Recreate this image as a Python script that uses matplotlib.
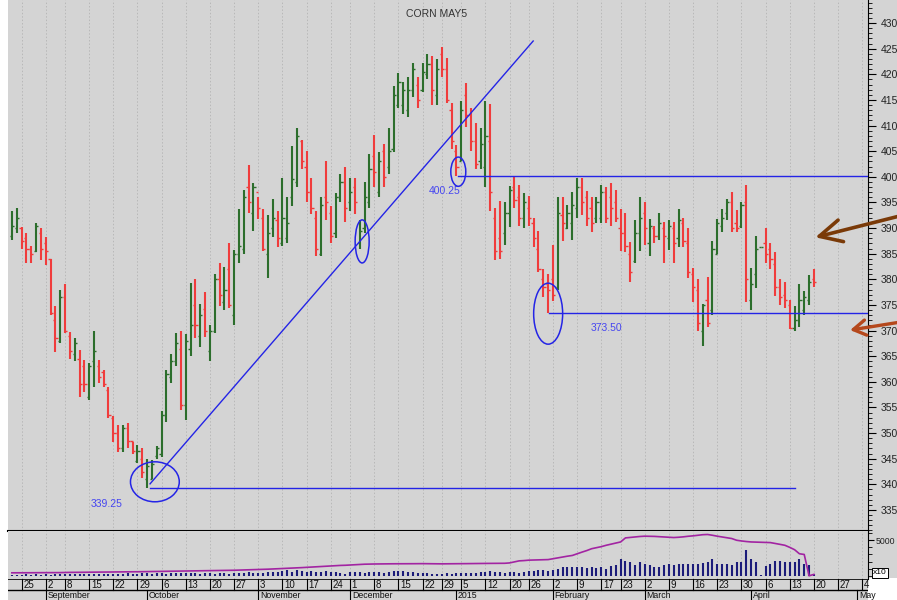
import numpy as np
import pandas as pd
import matplotlib
matplotlib.use("Agg")
import matplotlib.pyplot as plt
from matplotlib.patches import Ellipse, Rectangle

plt.rcParams['font.family'] = ['Liberation Sans', 'DejaVu Sans']

# trading calendar (Good Friday kept as a flat bar, like the source chart)
holidays = ["2014-09-01", "2014-11-27", "2014-12-25", "2015-01-01", "2015-01-19", "2015-02-16"]
dates = pd.bdate_range("2014-08-21", "2015-05-15")
dates = dates[~dates.isin(pd.to_datetime(holidays))]

opens = [388.5, 390, 390, 388, 386, 385.5, 389, 387, 384, 372,
         368, 376.5, 369, 365.5, 364.5, 363, 357, 364, 363, 362,
         358.5, 353, 350, 347, 351, 348.5, 344.5, 345, 341, 341,
         345.5, 346, 353.5, 361, 364, 366.5, 355.5, 366.5, 375, 369,
         374.25, 366, 370, 380, 375.5, 382, 373, 385, 386, 398,
         393, 397, 392, 385, 390, 391.5, 387, 388, 396, 399,
         407, 402, 397, 392, 385, 396, 393, 389, 396, 399,
         395, 398, 387, 390, 395, 404, 397, 405, 402, 405.5,
         414, 414, 413, 417, 418, 417, 420, 422, 416, 424,
         421, 413, 405, 403, 416, 412, 407, 403, 402, 407,
         392, 388, 389, 393, 398, 396, 392, 394, 391, 386,
         380, 379, 380, 378.5, 392.5, 390, 391, 394, 398, 396,
         394, 392, 392, 397, 396, 395, 390, 389, 385, 383.5,
         389, 393, 387, 390, 388.5, 390, 388, 390, 388, 391,
         387, 381, 378, 370, 376, 374, 385, 390.5, 393, 395,
         391, 390.5, 395, 376, 381, 386.25, 387, 386, 383, 378.5,
         377, 375, 370.5, 372, 374, 376, 380]
highs = [393.25, 394, 390.25, 389, 386.5, 391, 390, 388.25, 384, 374.75,
         378, 379, 369.75, 368.5, 366.25, 364.25, 363.75, 370, 364.25, 362.25,
         359, 353.25, 351.5, 351.5, 352, 348.25, 347.75, 347, 345, 344.75,
         347.5, 354.25, 362.25, 365.5, 369.5, 370, 369.25, 379.25, 380, 375.25,
         377.5, 371, 381, 383.25, 382.5, 387, 385.75, 393.75, 397.5, 402.25,
         398.75, 396, 393.75, 392.5, 395.75, 393.25, 399.75, 396, 406, 409.5,
         407.25, 405, 399.75, 393.25, 396, 403, 394.25, 396.75, 400.5, 402,
         399.75, 399.75, 391.5, 399, 404.5, 408.25, 404.75, 406.5, 409.5, 417.75,
         420.25, 418.5, 419.5, 422.25, 419.5, 422.25, 424, 423.5, 423, 425.25,
         423.25, 414.5, 406.25, 414.75, 418.25, 413.5, 410.5, 409.5, 414.75, 414.25,
         394, 395.25, 395, 398.25, 400, 398.5, 396.75, 396.25, 392, 389.5,
         382, 381, 386.75, 396, 396, 394.5, 397, 399.75, 399.75, 397.25,
         396, 396, 398.5, 398, 398.75, 397.5, 393.75, 393, 387.25, 391.5,
         396, 395, 391.75, 390.5, 393, 391.25, 391.5, 391.25, 393.75, 392,
         390, 382.25, 380, 375.25, 380.5, 387.5, 391.75, 393.75, 395.75, 397,
         393.5, 395, 398.5, 382.25, 388.5, 386.25, 390, 387, 385.25, 380,
         379.5, 376, 374.75, 379, 377.75, 380.75, 382]
lows = [387.75, 389, 386, 383.25, 383.25, 385.25, 383.75, 382.75, 373, 365.75,
        367.5, 369.5, 364.5, 364, 357, 358, 356.5, 359, 359.75, 359,
        353, 348.25, 346.25, 346.25, 347, 346, 344.25, 341.25, 339.25, 341,
        345, 345.25, 352.25, 359.75, 363, 354.5, 352.5, 365, 368.5, 366.75,
        368.75, 364, 369.5, 374.75, 374, 374.5, 371, 383.25, 385, 393,
        389.5, 391.75, 385.5, 380.25, 388.25, 386.25, 386.5, 387, 394.25, 398,
        401.5, 395, 392.75, 384.5, 384.5, 391.5, 387, 388, 395, 391.25,
        393.25, 392.75, 386, 389, 394, 398, 396, 398, 400.5, 404.75,
        413.5, 412.25, 411.75, 415.5, 413.5, 416.5, 419, 414, 414, 419.5,
        414.5, 405.5, 400.25, 403, 409.75, 405, 401.5, 401.5, 398, 393.25,
        383.75, 384, 386.75, 390.25, 394, 390.5, 390, 390.5, 386.25, 381.5,
        376.5, 373.5, 375.75, 378, 387.5, 389.75, 387.75, 392, 392.5, 390.5,
        389.25, 391, 391, 391, 390.5, 391.25, 385.5, 385.25, 379.5, 383.25,
        385.5, 386.75, 384.5, 387, 387.75, 383.25, 385.75, 383.25, 386.25, 386.25,
        380.25, 375.5, 370, 367, 370.75, 373, 385, 389.25, 391.5, 389.25,
        389.25, 390, 375.5, 374, 378.25, 386.25, 383.25, 382, 376.75, 375,
        374.5, 370.25, 370, 370.75, 373, 375, 378.5]
closes = [390.5, 392, 387.5, 386, 385, 390.5, 386, 385.5, 373.5, 368.5,
          376.5, 370, 366, 367.5, 359.5, 359.5, 363, 366, 361, 359.5,
          353.5, 350, 347, 351, 348.5, 346.5, 346.5, 342.5, 343.5, 344,
          347, 353.5, 361.5, 364, 367.5, 355.5, 368, 371, 371, 373,
          370, 370, 380, 377, 378, 375, 385, 386.5, 396, 395,
          398, 394, 386, 389, 392, 388, 392, 391, 399.5, 408,
          403, 397, 394, 386, 394.5, 395, 388.5, 396, 399, 394,
          397, 395, 389.5, 396, 401.5, 401, 403, 400, 405, 416,
          418.5, 417, 417, 421, 415, 420.5, 422, 417, 421, 421,
          415, 407, 402, 413, 412, 407, 402.5, 406.5, 408, 397,
          385.5, 385.5, 393, 397.5, 395.5, 392, 395, 392, 388, 382,
          378.5, 378, 377, 393, 391, 393, 394.5, 398, 395, 392,
          391, 395, 397, 392, 394, 392, 389, 386.5, 381.5, 389,
          392, 390, 390.5, 388.5, 391, 388.5, 390.5, 387, 391.5, 387.5,
          381.5, 378.5, 371.5, 375, 371.5, 386, 391, 392, 395, 390,
          390, 394.5, 380, 379, 386, 386.25, 385, 384, 378.5, 376.5,
          376, 370.5, 372, 376, 376.5, 379.5, 379.5]

# volume and open interest, in the chart's x10 units
volume = [150, 150, 150, 200, 150, 200, 150, 200, 150, 200,
          250, 250, 200, 250, 300, 250, 250, 300, 250, 300,
          300, 300, 250, 300, 350, 300, 300, 350, 400, 300,
          350, 350, 300, 400, 350, 450, 400, 350, 400, 300,
          350, 350, 300, 400, 350, 300, 400, 450, 350, 500,
          450, 400, 450, 500, 600, 550, 700, 800, 600, 750,
          700, 600, 650, 550, 600, 650, 550, 500, 450, 300,
          550, 500, 600, 450, 500, 500, 550, 450, 600, 650,
          650, 700, 600, 550, 450, 400, 350, 250, 200, 300,
          350, 250, 350, 400, 450, 400, 450, 500, 600, 650,
          550, 500, 450, 500, 600, 450, 550, 650, 700, 750,
          800, 700, 800, 1000, 1300, 1300, 1200, 1300, 1200, 1100,
          1200, 1100, 1300, 1000, 1400, 1500, 2300, 2100, 1900, 1500,
          1900, 1600, 1500, 1200, 1300, 1500, 1600, 1500, 1600, 1600,
          1700, 1700, 1600, 1800, 1900, 2300, 1700, 1600, 1700, 1500,
          1900, 1900, 3600, 2400, 2000, 100, 1400, 1600, 2100, 2100,
          2000, 1900, 1900, 2400, 1700, 1500, 300]
open_int = [420, 420, 430, 430, 430, 440, 440, 440, 450, 450,
            450, 470, 480, 480, 490, 500, 500, 510, 520, 520,
            530, 540, 540, 550, 560, 560, 570, 580, 590, 590,
            600, 610, 620, 630, 640, 650, 660, 670, 680, 690,
            700, 710, 720, 740, 750, 760, 780, 800, 820, 840,
            860, 880, 900, 930, 960, 1000, 1020, 1050, 1080, 1110,
            1150, 1190, 1220, 1260, 1300, 1340, 1400, 1430, 1460, 1480,
            1520, 1560, 1600, 1630, 1650, 1660, 1670, 1680, 1680, 1690,
            1690, 1700, 1700, 1700, 1710, 1710, 1700, 1690, 1680, 1680,
            1690, 1700, 1700, 1700, 1710, 1720, 1730, 1730, 1740, 1740,
            1750, 1760, 1760, 1810, 1950, 2100, 2140, 2200, 2220, 2240,
            2260, 2280, 2400, 2530, 2650, 2760, 2860, 3100, 3330, 3550,
            3810, 3950, 4100, 4290, 4450, 4600, 4760, 5330, 5400, 5480,
            5530, 5570, 5560, 5540, 5500, 5460, 5420, 5380, 5420, 5480,
            5560, 5620, 5700, 5780, 5810, 5700, 5570, 5460, 5350, 5240,
            5000, 4900, 4820, 4760, 4740, 4720, 4700, 4670, 4550, 4420,
            4290, 4000, 3670, 3100, 3000, 0, 200]

# drawn study lines and labels
trend_x = [28.6, 107.9]
trend_y = [340.1, 426.5]
levels = [339.25, 400.25, 373.50]
level_start = [28.6, 92.3, 111.2]
level_end = [162.1, 177.2, 177.2]
level_text = ["339.25", "400.25", "373.50"]
text_x = [19.7, 89.6, 123.0]
text_y = [336.2, 397.3, 370.5]
ell_x = [29.6, 72.5, 92.4, 111.0]
ell_y = [340.5, 387.4, 401.0, 373.3]
ell_w = [10.1, 2.9, 3.1, 6.0]
ell_h = [7.8, 8.4, 5.7, 11.9]

W, H = 897, 600
BG = '#d4d4d4'
x0, x1 = 8, 868
xlim = (-0.8, 177.2)

fig = plt.figure(figsize=(W / 100, H / 100), dpi=100)
fig.patch.set_facecolor('white')
# grey margin behind the right-hand scale
fig.patches.append(Rectangle((x1 / W, 1 - 578 / H), 1 - x1 / W, 578 / H,
                             transform=fig.transFigure, fc=BG, ec='none', zorder=-1))


def box(top, bottom):
    return [x0 / W, 1 - bottom / H, (x1 - x0) / W, (bottom - top) / H]


ax = fig.add_axes(box(0, 531))
axv = fig.add_axes(box(531, 579))
axd = fig.add_axes(box(579, 600))

n = len(closes)
xs = np.arange(n)
o, h, l, c = map(np.array, (opens, highs, lows, closes))
up = c >= o
cols = np.where(up, '#2c6e2c', '#f03c3c')

# weekly ticks and month starts
wk = pd.Series(dates.isocalendar().week.values)
week_pos = [i for i in range(1, len(dates)) if wk[i] != wk[i - 1] and i <= xlim[1]]
mon = pd.Series(dates.month)
month_pos = [i for i in range(1, len(dates)) if mon[i] != mon[i - 1] and i <= xlim[1]]

for a in (ax, axv):
    a.set_facecolor(BG)
    a.set_xlim(*xlim)
    for p in week_pos:
        a.axvline(p, color='#b8b8b8', lw=0.7, ls=(0, (1.5, 2)), zorder=0)
    a.set_xticks([])
    for s in ('left', 'top', 'bottom'):
        a.spines[s].set_visible(False)
    a.yaxis.tick_right()
    a.tick_params(axis='y', which='major', length=6, labelsize=7.5, pad=3, color='black')
    a.tick_params(axis='y', which='minor', length=3)

# price bars
ax.vlines(xs, l, h, colors=cols, lw=1.5, zorder=3)
ax.hlines(o, xs - 0.45, xs, colors=cols, lw=1.0, zorder=3)
ax.hlines(c, xs, xs + 0.45, colors=cols, lw=1.0, zorder=3)

ax.set_ylim(330.9, 434.5)
ax.set_yticks(np.arange(335, 431, 5))
ax.set_yticks(np.arange(331, 435, 1), minor=True)
ax.set_yticklabels([f"{v:.0f}" for v in np.arange(335, 431, 5)], color='#222222')

blue = '#2424e6'
ax.plot(trend_x, trend_y, color=blue, lw=1.0, zorder=4)
for lv, s, e in zip(levels, level_start, level_end):
    ax.plot([s, e], [lv, lv], color=blue, lw=1.0, zorder=4)
for t, tx, ty in zip(level_text, text_x, text_y):
    ax.text(tx, ty, t, color='#4646f0', fontsize=7.5, ha='center', va='center', zorder=5)
for ex, ey, ew, eh in zip(ell_x, ell_y, ell_w, ell_h):
    ax.add_patch(Ellipse((ex, ey), ew, eh, fill=False, ec=blue, lw=1.1, zorder=5))

ax.annotate('', xy=(166.3, 388.2), xytext=(183.5, 392.3), annotation_clip=False,
            arrowprops=dict(arrowstyle='->,head_length=1.6,head_width=0.8', lw=2.6,
                            color='#7a3a08', shrinkA=0, shrinkB=0))
ax.annotate('', xy=(173.5, 370.1), xytext=(183.5, 371.6), annotation_clip=False,
            arrowprops=dict(arrowstyle='->,head_length=0.9,head_width=0.55', lw=2.4,
                            color='#b5481c', shrinkA=0, shrinkB=0))

fig.text(437 / W, 1 - 14 / H, "CORN MAY5", fontsize=7.5, color='#333333', ha='center', va='center')
ax.spines['bottom'].set_visible(True)
ax.spines['bottom'].set_linewidth(1.5)

# volume panel
axv.vlines(xs, 0, volume, colors='#1c1c7a', lw=1.5, zorder=3)
axv.plot(xs, open_int, color='#a224a2', lw=1.2, zorder=4)
axv.set_ylim(-450, 6300)
axv.set_yticks([5000])
axv.set_yticklabels(["5000"], color='#222222', fontsize=6.3)
axv.tick_params(axis='y', which='major', length=4, pad=1.5)
axv.set_yticks(np.arange(0, 6300, 1000), minor=True)
fig.text(880 / W, 1 - 573 / H, "x10", fontsize=6, ha='center', va='center',
         bbox=dict(boxstyle='square,pad=0.15', fc='white', ec='black', lw=0.7))

# date rows
axd.set_facecolor(BG)
axd.patch.set_visible(True)
axd.set_xlim(*xlim)
axd.set_ylim(0, 2.1)
for s in axd.spines.values():
    s.set_visible(False)
axd.set_xticks([])
axd.set_yticks([])
axd.axhline(2.1, color='black', lw=1.2)
axd.axhline(1.0, color='black', lw=1.0)
for p in week_pos:
    axd.plot([p, p], [1.0, 2.1], color='black', lw=0.8)
    axd.text(p + 0.35, 1.55, str(dates[p].day), fontsize=7, ha='left', va='center', color='#111111')
for p in month_pos:
    axd.plot([p, p], [0, 1.0], color='black', lw=0.8)
    name = str(dates[p].year) if dates[p].month == 1 else dates[p].strftime('%B')
    axd.text(p + 0.35, 0.03, name, fontsize=6.3, ha='left', va='bottom', color='#111111')

fig.savefig("out.png", dpi=100)
